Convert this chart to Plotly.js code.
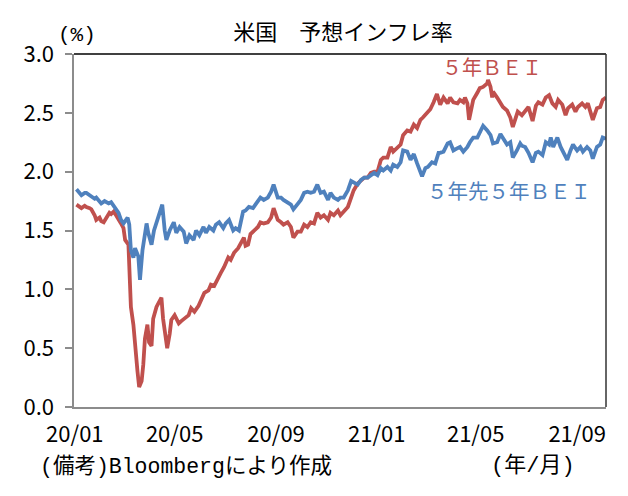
<!DOCTYPE html>
<html>
<head>
<meta charset="utf-8">
<script src="https://cdn.plot.ly/plotly-3.0.1.min.js"></script>
<style>
  html, body { margin: 0; padding: 0; background: #fff; }
  #chart { width: 628px; height: 496px; }
</style>
</head>
<body>
<div id="chart"></div>
<script>
// 5-year breakeven inflation rate (%)
const bei5Dates = [
  '2020-01-03','2020-01-07','2020-01-09','2020-01-13','2020-01-15','2020-01-19','2020-01-21','2020-01-25','2020-01-27','2020-01-31',
  '2020-02-02','2020-02-05','2020-02-08','2020-02-12','2020-02-14','2020-02-17','2020-02-20','2020-02-24','2020-02-26','2020-02-29',
  '2020-03-02','2020-03-06','2020-03-07','2020-03-09','2020-03-12','2020-03-14','2020-03-17','2020-03-19','2020-03-22','2020-03-24',
  '2020-03-26','2020-03-29','2020-03-31','2020-04-03','2020-04-05','2020-04-09','2020-04-13','2020-04-15','2020-04-17','2020-04-20',
  '2020-04-22','2020-04-25','2020-04-27','2020-05-01','2020-05-06','2020-05-09','2020-05-13','2020-05-18','2020-05-21','2020-05-25',
  '2020-05-30','2020-06-02','2020-06-06','2020-06-11','2020-06-14','2020-06-18','2020-06-23','2020-06-26','2020-06-30','2020-07-05',
  '2020-07-08','2020-07-12','2020-07-17','2020-07-20','2020-07-24','2020-07-26','2020-07-29','2020-08-01','2020-08-05','2020-08-10',
  '2020-08-13','2020-08-17','2020-08-22','2020-08-26','2020-08-29','2020-09-03','2020-09-07','2020-09-10','2020-09-15','2020-09-19',
  '2020-09-22','2020-09-27','2020-10-01','2020-10-05','2020-10-09','2020-10-13','2020-10-17','2020-10-21','2020-10-25','2020-10-29',
  '2020-11-03','2020-11-06','2020-11-10','2020-11-15','2020-11-18','2020-11-22','2020-11-27','2020-12-01','2020-12-04','2020-12-09',
  '2020-12-13','2020-12-17','2020-12-21','2020-12-25','2020-12-29','2021-01-02','2021-01-06','2021-01-09','2021-01-14','2021-01-18',
  '2021-01-21','2021-01-26','2021-01-30','2021-02-02','2021-02-07','2021-02-11','2021-02-15','2021-02-19','2021-02-23','2021-02-26',
  '2021-03-03','2021-03-07','2021-03-11','2021-03-15','2021-03-19','2021-03-23','2021-03-28','2021-03-31','2021-04-04','2021-04-09',
  '2021-04-12','2021-04-16','2021-04-18','2021-04-21','2021-04-23','2021-04-26','2021-04-28','2021-05-03','2021-05-06','2021-05-10',
  '2021-05-15','2021-05-16','2021-05-19','2021-05-21','2021-05-22','2021-05-27','2021-05-31','2021-06-03','2021-06-08','2021-06-12',
  '2021-06-15','2021-06-18','2021-06-21','2021-06-26','2021-06-30','2021-07-04','2021-07-09','2021-07-13','2021-07-16','2021-07-21',
  '2021-07-25','2021-07-29','2021-08-02','2021-08-06','2021-08-09','2021-08-14','2021-08-18','2021-08-21','2021-08-26','2021-08-30',
  '2021-09-02','2021-09-07','2021-09-11','2021-09-14','2021-09-20','2021-09-25','2021-09-29','2021-10-02','2021-10-06'
];
const bei5Values = [
  1.72,1.70,1.69,1.71,1.70,1.69,1.68,1.63,1.59,1.61,
  1.58,1.57,1.61,1.65,1.64,1.66,1.63,1.59,1.56,1.52,
  1.42,1.38,1.20,0.85,0.70,0.50,0.30,0.17,0.22,0.36,
  0.58,0.70,0.55,0.52,0.75,0.85,0.90,0.93,0.75,0.60,
  0.50,0.62,0.74,0.78,0.71,0.73,0.75,0.78,0.84,0.81,
  0.86,0.91,0.97,0.99,1.04,1.03,1.11,1.14,1.19,1.27,
  1.25,1.31,1.35,1.39,1.44,1.37,1.38,1.47,1.50,1.53,
  1.57,1.56,1.57,1.61,1.69,1.59,1.57,1.55,1.57,1.53,
  1.44,1.49,1.49,1.55,1.53,1.57,1.56,1.65,1.61,1.63,
  1.59,1.65,1.63,1.67,1.63,1.66,1.70,1.78,1.84,1.90,
  1.93,1.95,1.95,1.99,2.00,2.00,2.10,2.12,2.12,2.21,
  2.17,2.21,2.23,2.31,2.35,2.34,2.40,2.37,2.44,2.46,
  2.50,2.53,2.59,2.66,2.57,2.63,2.58,2.63,2.59,2.58,
  2.61,2.59,2.63,2.58,2.44,2.56,2.61,2.67,2.71,2.72,
  2.75,2.78,2.72,2.63,2.68,2.63,2.59,2.55,2.52,2.46,
  2.38,2.44,2.51,2.48,2.52,2.55,2.43,2.56,2.59,2.57,
  2.63,2.65,2.58,2.55,2.61,2.57,2.48,2.54,2.57,2.51,
  2.55,2.58,2.55,2.58,2.44,2.54,2.55,2.61,2.63
];

// 5-year, 5-year forward breakeven inflation rate (%)
const fwd5y5yDates = [
  '2020-01-03','2020-01-07','2020-01-09','2020-01-13','2020-01-15','2020-01-19','2020-01-21','2020-01-25','2020-01-27','2020-01-31',
  '2020-02-02','2020-02-06','2020-02-11','2020-02-14','2020-02-18','2020-02-23','2020-02-26','2020-02-29','2020-03-02','2020-03-05',
  '2020-03-07','2020-03-09','2020-03-12','2020-03-14','2020-03-18','2020-03-20','2020-03-23','2020-03-25','2020-03-28','2020-03-30',
  '2020-04-03','2020-04-06','2020-04-11','2020-04-14','2020-04-16','2020-04-19','2020-04-21','2020-04-25','2020-04-30','2020-05-03',
  '2020-05-07','2020-05-12','2020-05-15','2020-05-19','2020-05-24','2020-05-27','2020-05-31','2020-06-05','2020-06-08','2020-06-12',
  '2020-06-17','2020-06-20','2020-06-24','2020-06-29','2020-07-02','2020-07-06','2020-07-11','2020-07-14','2020-07-18','2020-07-23',
  '2020-07-26','2020-07-30','2020-08-04','2020-08-08','2020-08-11','2020-08-13','2020-08-17','2020-08-22','2020-08-26','2020-08-29',
  '2020-09-03','2020-09-07','2020-09-10','2020-09-15','2020-09-19','2020-09-22','2020-09-27','2020-10-01','2020-10-05','2020-10-09',
  '2020-10-13','2020-10-17','2020-10-21','2020-10-25','2020-10-29','2020-11-03','2020-11-06','2020-11-10','2020-11-15','2020-11-18',
  '2020-11-22','2020-11-27','2020-12-01','2020-12-04','2020-12-09','2020-12-13','2020-12-17','2020-12-21','2020-12-25','2020-12-29',
  '2021-01-02','2021-01-06','2021-01-09','2021-01-14','2021-01-18','2021-01-21','2021-01-26','2021-01-30','2021-02-02','2021-02-07',
  '2021-02-11','2021-02-15','2021-02-19','2021-02-23','2021-02-25','2021-03-01','2021-03-04','2021-03-09','2021-03-13','2021-03-17',
  '2021-03-19','2021-03-23','2021-03-28','2021-03-31','2021-04-04','2021-04-09','2021-04-12','2021-04-16','2021-04-21','2021-04-24',
  '2021-04-28','2021-05-03','2021-05-06','2021-05-10','2021-05-15','2021-05-19','2021-05-22','2021-05-27','2021-05-31','2021-06-03',
  '2021-06-08','2021-06-12','2021-06-15','2021-06-20','2021-06-24','2021-06-26','2021-06-30','2021-07-04','2021-07-09','2021-07-13',
  '2021-07-16','2021-07-21','2021-07-25','2021-07-29','2021-07-31','2021-08-03','2021-08-08','2021-08-12','2021-08-15','2021-08-20',
  '2021-08-24','2021-08-27','2021-09-01','2021-09-05','2021-09-08','2021-09-13','2021-09-17','2021-09-20','2021-09-25','2021-09-29',
  '2021-10-02','2021-10-06'
];
const fwd5y5yValues = [
  1.85,1.81,1.80,1.82,1.82,1.80,1.79,1.77,1.78,1.74,
  1.73,1.75,1.73,1.74,1.70,1.65,1.59,1.56,1.58,1.61,
  1.55,1.33,1.27,1.35,1.28,1.08,1.33,1.42,1.56,1.48,
  1.38,1.50,1.61,1.70,1.72,1.50,1.42,1.50,1.57,1.48,
  1.53,1.49,1.39,1.46,1.42,1.50,1.46,1.53,1.48,1.53,
  1.50,1.55,1.57,1.52,1.56,1.59,1.50,1.52,1.50,1.66,
  1.67,1.70,1.69,1.73,1.76,1.78,1.76,1.78,1.83,1.89,
  1.78,1.78,1.76,1.74,1.72,1.68,1.72,1.76,1.82,1.83,
  1.82,1.83,1.89,1.82,1.83,1.76,1.82,1.78,1.76,1.78,
  1.78,1.84,1.92,1.91,1.89,1.93,1.95,1.95,1.97,1.99,
  1.97,2.03,2.01,2.04,2.01,2.06,2.04,2.08,2.18,2.17,
  2.10,2.15,2.07,2.00,1.96,2.03,2.04,2.08,2.07,2.16,
  2.16,2.17,2.24,2.25,2.18,2.20,2.21,2.17,2.21,2.25,
  2.29,2.29,2.34,2.39,2.35,2.31,2.24,2.25,2.32,2.29,
  2.23,2.25,2.12,2.18,2.24,2.22,2.21,2.16,2.08,2.16,
  2.17,2.14,2.25,2.23,2.29,2.21,2.29,2.21,2.17,2.10,
  2.18,2.23,2.18,2.21,2.17,2.21,2.18,2.11,2.21,2.23,
  2.29,2.28
];

// Axis ticks
const xTickDates = ['2020-01-01','2020-05-01','2020-09-01','2021-01-01','2021-05-01','2021-09-01'];
const xTickLabels = ['20/01','20/05','20/09','21/01','21/05','21/09'];
const yTickValues = [0, 0.5, 1.0, 1.5, 2.0, 2.5, 3.0];
const yTickLabels = ['0.0','0.5','1.0','1.5','2.0','2.5','3.0'];

const RED = '#C0504D';
const BLUE = '#4F81BD';
const JP = '"Noto Sans CJK JP", "Noto Sans", sans-serif';
const NOTE = '"Liberation Mono", "Noto Sans CJK JP", monospace';

// plot box in pixels
const W = 628, H = 496;
const L = 74, R = 606, T = 54, B = 407;
const px = x => (x - L) / (R - L);
const py = y => (B - y) / (B - T);

const traces = [
  { x: bei5Dates, y: bei5Values, type: 'scatter', mode: 'lines',
    line: { color: RED, width: 3.8 }, name: '５年ＢＥＩ', hoverinfo: 'skip' },
  { x: fwd5y5yDates, y: fwd5y5yValues, type: 'scatter', mode: 'lines',
    line: { color: BLUE, width: 3.8 }, name: '５年先５年ＢＥＩ', hoverinfo: 'skip' }
];

const layout = {
  width: W, height: H,
  margin: { l: L, r: W - R, t: T, b: H - B, pad: 0 },
  paper_bgcolor: '#fff', plot_bgcolor: '#fff',
  showlegend: false,
  title: {
    text: '米国　予想インフレ率',
    font: { family: JP, size: 22, color: '#000' },
    xref: 'container', yref: 'container',
    x: 343 / W, xanchor: 'center',
    y: 1 - 32 / H, yanchor: 'middle'
  },
  xaxis: {
    type: 'date',
    range: ['2019-12-31', '2021-10-06'],
    tickmode: 'array', tickvals: xTickDates, ticktext: xTickLabels,
    ticks: '', showgrid: false, zeroline: false,
    showline: true, linecolor: '#8c8c8c', linewidth: 2,
    tickfont: { family: JP, size: 22, color: '#000' },
    ticklabelstandoff: 7
  },
  yaxis: {
    range: [0, 3],
    tickmode: 'array', tickvals: yTickValues, ticktext: yTickLabels,
    ticks: 'outside', ticklen: 7, tickwidth: 2, tickcolor: '#8c8c8c',
    showgrid: false, zeroline: false,
    showline: true, linecolor: '#8c8c8c', linewidth: 2.5,
    tickfont: { family: JP, size: 22, color: '#000' },
    ticklabelstandoff: 6
  },
  shapes: [
    { type: 'line', xref: 'paper', yref: 'paper', x0: 0, x1: 1, y0: 1, y1: 1,
      line: { color: '#000', width: 1.5 } },
    { type: 'line', xref: 'paper', yref: 'paper', x0: 1, x1: 1, y0: 0, y1: 1,
      line: { color: '#333', width: 1.5 } }
  ],
  annotations: [
    { text: '(%)', xref: 'paper', yref: 'paper', x: px(77), y: py(35),
      xanchor: 'center', yanchor: 'middle', showarrow: false,
      font: { family: NOTE, size: 21, color: '#000' } },
    { text: '５年ＢＥＩ', xref: 'paper', yref: 'paper', x: px(492), y: py(66),
      xanchor: 'center', yanchor: 'middle', showarrow: false,
      font: { family: JP, size: 20, color: RED } },
    { text: '５年先５年ＢＥＩ', xref: 'paper', yref: 'paper', x: px(509), y: py(190),
      xanchor: 'center', yanchor: 'middle', showarrow: false,
      font: { family: JP, size: 20.5, color: BLUE } },
    { text: '(備考)Bloombergにより作成', xref: 'paper', yref: 'paper', x: px(38), y: py(467),
      xanchor: 'left', yanchor: 'middle', showarrow: false,
      font: { family: NOTE, size: 21.5, color: '#000' } },
    { text: '(年/月)', xref: 'paper', yref: 'paper', x: px(533), y: py(466),
      xanchor: 'center', yanchor: 'middle', showarrow: false,
      font: { family: NOTE, size: 22, color: '#000' } }
  ]
};

Plotly.newPlot('chart', traces, layout, { staticPlot: true, displayModeBar: false });
</script>
</body>
</html>
